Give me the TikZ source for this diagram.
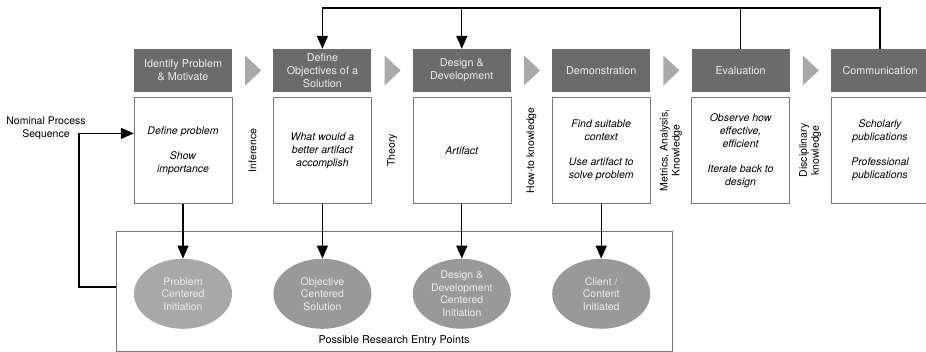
\documentclass[tikz,border=0pt]{standalone}
\usepackage{fontspec}
\setmainfont{TeX Gyre Heros}
\usetikzlibrary{positioning,shapes.geometric,arrows.meta,calc}
\definecolor{hdgray}{HTML}{6B6B6B}
\definecolor{chevgray}{HTML}{A9A9A9}
\definecolor{boxline}{HTML}{7A7A7A}
\definecolor{ovalgray}{HTML}{999999}
\definecolor{ovallight}{HTML}{A8A8A8}
\definecolor{pale}{HTML}{EDEDED}

\begin{document}
\begin{tikzpicture}[x=1pt,y=-1pt,
    hdr/.style={fill=hdgray, text=pale, minimum width=98pt, minimum height=43pt,
      inner sep=0pt, align=center, font=\fontsize{10.8}{13}\selectfont},
    task/.style={draw=boxline, minimum width=98pt, minimum height=106pt,
      inner sep=0pt, align=center, font=\fontsize{10.5}{13}\selectfont\itshape},
    oval/.style={ellipse, fill=ovalgray, text=pale, minimum width=98pt,
      minimum height=70pt, inner sep=0pt, align=center,
      font=\fontsize{10.5}{12.5}\selectfont},
    side/.style={rotate=90, align=center, font=\fontsize{10.5}{12}\selectfont},
    chev/.style={fill=chevgray},
    arr/.style={line width=1.3pt, -{Triangle[length=13pt,width=11pt]}},
    link/.style={line width=1.3pt}]
  \useasboundingbox (0,0) rectangle (926,352);

  % process steps
  \node[hdr] (h1) at (183,70.5) {Identify Problem\\\& Motivate};
  \node[hdr, right=41pt of h1] (h2) {Define\\Objectives of a\\Solution};
  \node[hdr, right=41pt of h2] (h3) {Design \&\\Development};
  \node[hdr, right=41pt of h3] (h4) {Demonstration};
  \node[hdr, right=41pt of h4] (h5) {Evaluation};
  \node[hdr, right=41pt of h5] (h6) {Communication};

  \node[task, below=5pt of h1] (t1) {Define problem\\[12pt]Show\\importance};
  \node[task, below=5pt of h2] (t2) {What would a\\better artifact\\accomplish};
  \node[task, below=5pt of h3] (t3) {Artifact};
  \node[task, below=5pt of h4] (t4) {Find suitable\\context\\[12pt]Use artifact to\\solve problem};
  \node[task, below=5pt of h5] (t5) {Observe how\\effective,\\efficient\\[12pt]Iterate back to\\design};
  \node[task, below=5pt of h6] (t6) {Scholarly\\publications\\[12pt]Professional\\publications};

  \foreach \a/\b in {h1/h2,h2/h3,h3/h4,h4/h5,h5/h6}
    \fill[chev] ($(\a.east)+(13,-15)$) -- ($(\a.east)+(29,0)$) -- ($(\a.east)+(13,15)$) -- cycle;

  % knowledge between steps
  \node[side] (inf) at ($(t1.east)!0.5!(t2.west)$) {Inference};
  \node[side] (thy) at ($(t2.east)!0.5!(t3.west)$) {Theory};
  \node[side] (how) at ($(t3.east)!0.5!(t4.west)$) {How-to knowledge};
  \node[side] (met) at ($(t4.east)!0.5!(t5.west)$) {Metrics, Analysis,\\Knowledge};
  \node[side] (dis) at ($(t5.east)!0.5!(t6.west)$) {Disciplinary\\knowledge};

  % entry points
  \node[draw=boxline, minimum width=556pt, minimum height=120pt, inner sep=0pt] (entry) at (394,291) {};
  \node[font=\fontsize{10.8}{13}\selectfont, above=2pt of entry.south] (entrylbl) {Possible Research Entry Points};
  \node[oval, fill=ovallight, below=55pt of t1] (e1) {Problem\\Centered\\Initiation};
  \node[oval, below=55pt of t2] (e2) {Objective\\Centered\\Solution};
  \node[oval, inner ysep=-6pt, below=55pt of t3] (e3) {Design \&\\Development\\Centered\\Initiation};
  \node[oval, below=55pt of t4] (e4) {Client /\\Content\\Initiated};
  \foreach \i in {1,...,4}
    \draw[arr] (t\i) -- (e\i);

  \node[align=center, font=\fontsize{10.5}{13}\selectfont] (nps) at (46,128) {Nominal Process\\Sequence};
  \coordinate (back) at (79,287);
  \draw[arr] (back -| entry.west) -- (back) |- ($(t1.west)+(0,-17)$);

  % iteration back
  \coordinate (top) at (0,8);
  \draw[arr] (h6.north) |- (h2.north |- top) -- (h2.north);
  \draw[link] (h5.north) -- (h5.north |- top);
  \draw[arr] (h3.north |- top) -- (h3.north);
\end{tikzpicture}
\end{document}
